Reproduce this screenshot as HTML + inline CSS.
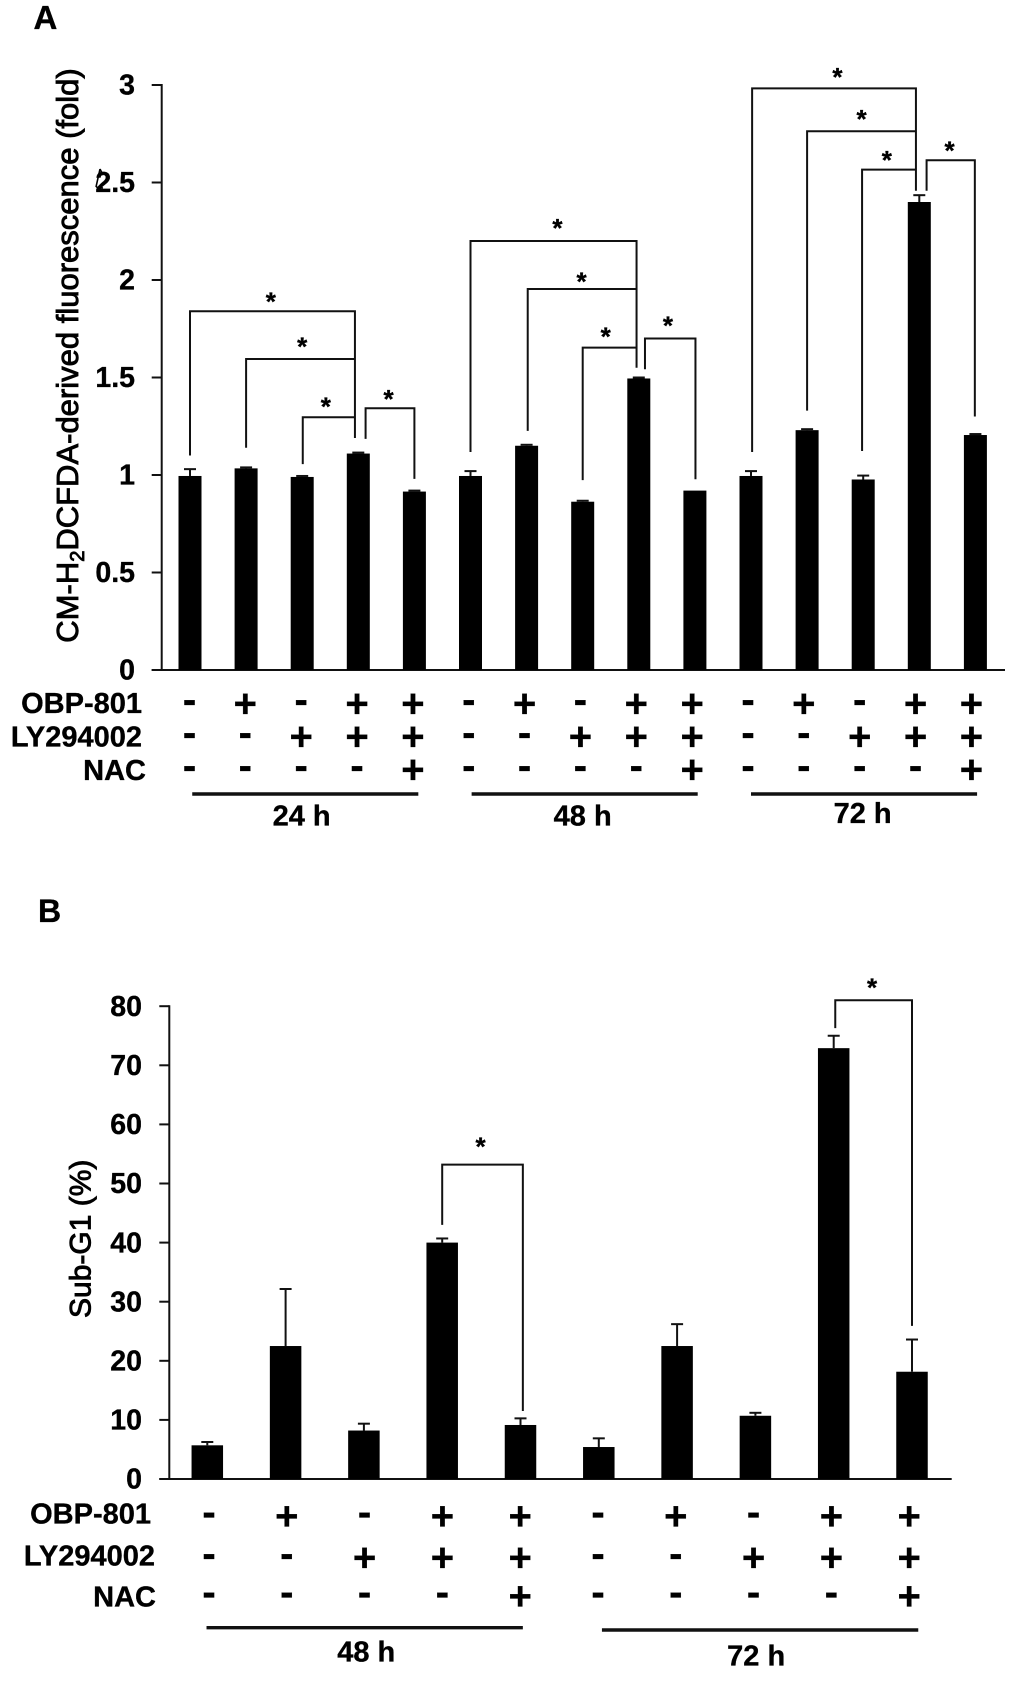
<!DOCTYPE html>
<html lang="en">
<head>
<meta charset="utf-8">
<title>ROS and Sub-G1 bar charts</title>
<style>
html,body{margin:0;padding:0;background:#fff;width:1021px;height:1681px;overflow:hidden}
svg{display:block;filter:blur(.35px)}
text{font-family:"Liberation Sans",Arial,sans-serif;fill:#000}
.b{font-weight:700;stroke:#000;stroke-width:.35px}
.soft{stroke:#000;stroke-width:.9px}
</style>
</head>
<body>
<svg id="figure" width="1021" height="1681" viewBox="0 0 1021 1681" xmlns="http://www.w3.org/2000/svg">
  <rect x="0" y="0" width="1021" height="1681" fill="#fff"/>
  <text class="b" x="33.5" y="29" font-size="33">A</text>
  <text class="b" x="38" y="922" font-size="32">B</text>
  <text class="soft" transform="translate(78,642.7) rotate(-90)" font-size="31">CM-H<tspan dy="6" font-size="20">2</tspan><tspan dy="-6">DCFDA-derived fluorescence (fold)</tspan></text>
  <text class="soft" transform="translate(90.5,1318) rotate(-90)" font-size="30">Sub-G1 (%)</text>
  <path d="M100 169 L96 187 M100 169 L103 175 M96 187 L103 188" fill="none" stroke="#000" stroke-width="1.6"/>
  <g id="panel-a"></g>
  <g id="panel-b"></g>
</svg>
<script>
// ---------- Panel A data ----------
const ticksA = [0, 0.5, 1, 1.5, 2, 2.5, 3];
const tickLabelsA = ["0", "0.5", "1", "1.5", "2", "2.5", "3"];
const valuesA = [0.995, 1.034, 0.99, 1.11, 0.915, 0.995, 1.15, 0.863, 1.495, 0.92, 0.995, 1.23, 0.977, 2.40, 1.205];
const errorsA = [0.035, 0.005, 0.005, 0.005, 0.005, 0.025, 0.005, 0.005, 0.005, 0, 0.025, 0.005, 0.02, 0.035, 0.005];
const obpA = ["-","+","-","+","+","-","+","-","+","+","-","+","-","+","+"];
const lyA  = ["-","-","+","+","+","-","-","+","+","+","-","-","+","+","+"];
const nacA = ["-","-","-","-","+","-","-","-","-","+","-","-","-","-","+"];
const groupNamesA = ["24 h", "48 h", "72 h"];
const groupStartA = [0.04, 5.02, 10];
const groupEndA = [4.07, 9.05, 14.03];
const groupCenterA = [1.99, 7, 11.99];
const bracketFromA = [0, 1, 2.01, 3.13, 5, 6.02, 7, 8.11, 10.02, 11, 11.98, 13.13];
const bracketToA = [2.94, 2.94, 2.94, 4, 7.96, 7.96, 7.96, 9.01, 12.94, 12.94, 12.94, 13.99];
const bracketTopA = [1.84, 1.595, 1.296, 1.342, 2.2, 1.954, 1.653, 1.70, 2.983, 2.763, 2.566, 2.614];
const bracketFromEndA = [1.10, 1.14, 1.056, 1.185, 1.118, 1.226, 0.974, 1.542, 1.118, 1.33, 1.123, 2.458];
const bracketToEndA = [1.19, 1.595, 1.296, 0.98, 1.55, 1.954, 1.653, 0.978, 2.458, 2.763, 2.566, 1.30];
const starIndexA = [1.44, 2.0, 2.42, 3.54, 6.55, 6.98, 7.41, 8.52, 11.54, 11.97, 12.42, 13.54];
const starValueA = [1.909, 1.68, 1.371, 1.409, 2.287, 2.014, 1.732, 1.786, 3.062, 2.845, 2.637, 2.684];

// ---------- Panel B data ----------
const ticksB = [0, 10, 20, 30, 40, 50, 60, 70, 80];
const tickLabelsB = ["0", "10", "20", "30", "40", "50", "60", "70", "80"];
const valuesB = [5.7, 22.5, 8.2, 40, 9.14, 5.41, 22.5, 10.7, 72.9, 18.15];
const errorsB = [0.56, 9.65, 1.16, 0.7, 1.12, 1.47, 3.7, 0.5, 2.1, 5.45];
const obpB = ["-","+","-","+","+","-","+","-","+","+"];
const lyB  = ["-","-","+","+","+","-","-","+","+","+"];
const nacB = ["-","-","-","-","+","-","-","-","-","+"];
const groupNamesB = ["48 h", "72 h"];
const groupStartB = [-0.01, 5.04];
const groupEndB = [4.03, 9.08];
const groupCenterB = [2.03, 7.01];
const bracketFromB = [3, 8.02];
const bracketToB = [4.03, 9];
const bracketTopB = [53.2, 81];
const bracketFromEndB = [43, 76.3];
const bracketToEndB = [11.5, 25.9];
const starIndexB = [3.49, 8.49];
const starValueB = [56.9, 83.8];

const rowNames = ["OBP-801", "LY294002", "NAC"];

const SVGNS = "http://www.w3.org/2000/svg";
function make(parent, tag, attrs, txt) {
  const el = document.createElementNS(SVGNS, tag);
  for (const k in attrs) el.setAttribute(k, attrs[k]);
  if (txt !== undefined) el.textContent = txt;
  parent.appendChild(el);
  return el;
}

function drawPanel(root, cfg) {
  const x = i => cfg.x0 + cfg.pitch * i;
  const y = v => cfg.y0 - cfg.k * v;
  const sx = i => cfg.sym0 + cfg.symPitch * i;
  const line = (x1, y1, x2, y2, w) => ({x1, y1, x2, y2, stroke: "#111", "stroke-width": w || 2});

  // axes
  const yAxis = make(root, "line", line(cfg.axisX, y(cfg.ticks[cfg.ticks.length - 1]) - 1, cfg.axisX, cfg.y0 + 1));
  
  
  const xAxis = make(root, "line", line(cfg.axisX - 10, cfg.y0, cfg.axisEnd, cfg.y0));
  
  

  cfg.ticks.forEach((t, i) => {
    const tick = make(root, "line", line(cfg.axisX - 10, y(t), cfg.axisX, y(t)));
    
    
    const lab = make(root, "text", {x: cfg.tickRight, y: y(t) + 9.7, "text-anchor": "end", "font-size": 28.5, class: "b"}, cfg.tickLabels[i]);
    
    
  });

  // bars and error bars
  cfg.values.forEach((v, i) => {
    const bar = make(root, "rect", {x: x(i) - cfg.barW / 2, y: y(v), width: cfg.barW, height: cfg.y0 - y(v), fill: "#000"});
    
    
    const e = cfg.errors[i];
    if (e > 0) {
      const stem = make(root, "line", line(x(i), y(v), x(i), y(v + e)));
      
      
      const cap = make(root, "line", line(x(i) - 6, y(v + e), x(i) + 6, y(v + e)));
      
      
    }
  });

  // significance brackets
  cfg.bFrom.forEach((f, i) => {
    const xa = x(f), xb = x(cfg.bTo[i]);
    const d = "M" + xa + " " + y(cfg.bFromEnd[i]) + " V" + y(cfg.bTop[i]) + " H" + xb + " V" + y(cfg.bToEnd[i]);
    const br = make(root, "path", {d: d, fill: "none", stroke: "#111", "stroke-width": 2});
    
    
  });
  cfg.sIdx.forEach((s, i) => {
    const st = make(root, "text", {x: x(s), y: y(cfg.sVal[i]) + 13, "text-anchor": "middle", "font-size": 26, class: "b"}, "*");
    
    
  });

  // treatment rows
  cfg.rows.forEach((row, r) => {
    const rl = make(root, "text", {x: cfg.rowRight[r], y: cfg.rowBase[r], "text-anchor": "end", "font-size": 29, class: "b"}, rowNames[r]);
    
    
    row.forEach((s, i) => {
      const off = s === "+" ? 13.5 : 9.5;
      const sym = make(root, "text", {x: sx(i), y: cfg.rowMid[r] + off, "text-anchor": "middle", "font-size": 40, class: "b"}, s);
      
      
    });
  });

  // time-point groups
  cfg.gNames.forEach((g, i) => {
    const gl = make(root, "line", line(x(cfg.gStart[i]), cfg.gLineY[i], x(cfg.gEnd[i]), cfg.gLineY[i], 3.4));
    
    
    const gt = make(root, "text", {x: x(cfg.gCenter[i]), y: cfg.gLabelY[i], "text-anchor": "middle", "font-size": 29, class: "b"}, g);
    
    
  });
}

drawPanel(document.getElementById("panel-a"), {
  x0: 190, pitch: 56.1, barW: 23, y0: 670, k: 195, axisX: 161.7, axisEnd: 1005, tickRight: 135,
  sym0: 189.5, symPitch: 55.85,
  ticks: ticksA, tickLabels: tickLabelsA, values: valuesA, errors: errorsA,
  bFrom: bracketFromA, bTo: bracketToA, bTop: bracketTopA, bFromEnd: bracketFromEndA, bToEnd: bracketToEndA,
  sIdx: starIndexA, sVal: starValueA,
  rows: [obpA, lyA, nacA], rowRight: [142, 142, 146], rowBase: [713, 746.7, 780], rowMid: [703.3, 736.7, 769.3],
  gNames: groupNamesA, gStart: groupStartA, gEnd: groupEndA, gCenter: groupCenterA, gLineY: [794, 794, 794], gLabelY: [825.7, 825.7, 823]
});
drawPanel(document.getElementById("panel-b"), {
  x0: 207.3, pitch: 78.3, barW: 31.5, y0: 1479, k: 5.91, axisX: 169.3, axisEnd: 951.7, tickRight: 142,
  sym0: 209, symPitch: 77.8,
  ticks: ticksB, tickLabels: tickLabelsB, values: valuesB, errors: errorsB,
  bFrom: bracketFromB, bTo: bracketToB, bTop: bracketTopB, bFromEnd: bracketFromEndB, bToEnd: bracketToEndB,
  sIdx: starIndexB, sVal: starValueB,
  rows: [obpB, lyB, nacB], rowRight: [151, 155, 156], rowBase: [1523.3, 1565.7, 1606.7], rowMid: [1516, 1557.3, 1596],
  gNames: groupNamesB, gStart: groupStartB, gEnd: groupEndB, gCenter: groupCenterB, gLineY: [1627.7, 1630], gLabelY: [1661.7, 1665.7]
});
</script>
</body>
</html>
